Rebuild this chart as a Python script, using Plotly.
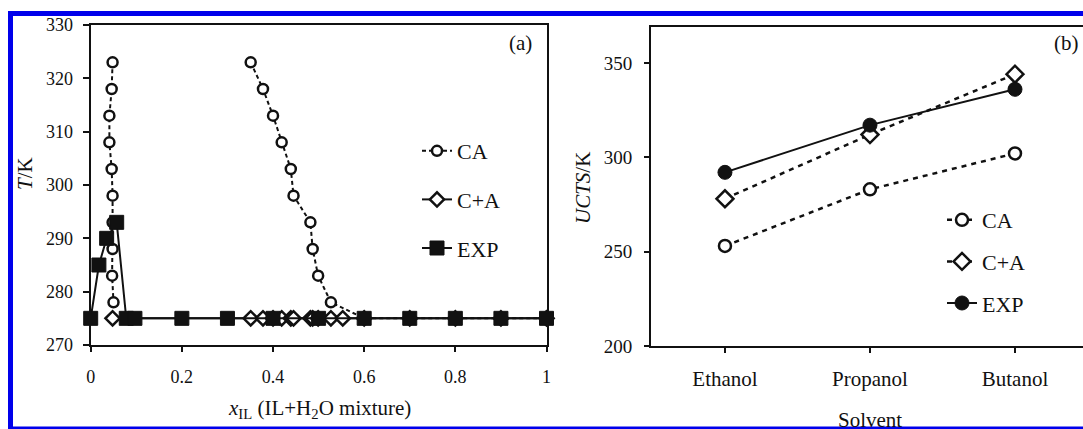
import plotly.graph_objects as go

W, H = 1083, 429

# ---- panel (a): T vs x_IL for IL + H2O ----
ca_left_x = [0.048, 0.046, 0.041, 0.041, 0.046, 0.048, 0.048, 0.048, 0.047, 0.050]
ca_left_t = [323, 318, 313, 308, 303, 298, 293, 288, 283, 278]
ca_right_x = [0.351, 0.378, 0.400, 0.419, 0.439, 0.445, 0.482, 0.487, 0.499, 0.527,
              0.6, 0.7, 0.8, 0.9, 1.0]
ca_right_t = [323, 318, 313, 308, 303, 298, 293, 288, 283, 278,
              275, 275, 275, 275, 275]

cpa_x = [0.048, 0.351, 0.378, 0.400, 0.419, 0.439, 0.445, 0.482, 0.487, 0.499,
         0.527, 0.553, 0.6, 0.7, 0.8, 0.9, 1.0]
cpa_t = [275] * len(cpa_x)

exp_x = [0, 0.018, 0.035, 0.057, 0.078, 0.097, 0.2, 0.3, 0.4, 0.5,
         0.6, 0.7, 0.8, 0.9, 1.0]
exp_t = [275, 285, 290, 293, 275, 275, 275, 275, 275, 275,
         275, 275, 275, 275, 275]

xa_ticks = [0, 0.2, 0.4, 0.6, 0.8, 1.0]
xa_labels = ["0", "0.2", "0.4", "0.6", "0.8", "1"]
ya_ticks = [270, 280, 290, 300, 310, 320, 330]

# ---- panel (b): UCTS by solvent ----
solvents = ["Ethanol", "Propanol", "Butanol"]
ucts_ca = [253, 283, 302]
ucts_cpa = [278, 312, 344]
ucts_exp = [292, 317, 336]
yb_ticks = [200, 250, 300, 350]

SERIF = "Liberation Serif"
BLACK = "#111111"
BLUE = "rgb(0,0,235)"


def fx(px):
    return px / W


def fy(py):
    return 1 - py / H


fig = go.Figure()

# panel (a) traces
fig.add_trace(go.Scatter(
    x=ca_left_x + [None] + ca_right_x, y=ca_left_t + [None] + ca_right_t,
    mode="lines+markers", name="CA", legendgroup="a1", legend="legend",
    line=dict(color=BLACK, width=2, dash="4px,3px"),
    marker=dict(symbol="circle", size=10, color="white",
                line=dict(color=BLACK, width=2.5)),
    cliponaxis=False, xaxis="x", yaxis="y"))
fig.add_trace(go.Scatter(
    x=cpa_x, y=cpa_t, mode="lines+markers", name="C+A", legendgroup="a2",
    legend="legend",
    line=dict(color=BLACK, width=2),
    marker=dict(symbol="diamond", size=11, color="white",
                line=dict(color=BLACK, width=2.5)),
    cliponaxis=False, xaxis="x", yaxis="y"))
fig.add_trace(go.Scatter(
    x=exp_x, y=exp_t, mode="lines+markers", name="EXP", legendgroup="a3",
    legend="legend",
    line=dict(color=BLACK, width=2),
    marker=dict(symbol="square", size=14, color=BLACK,
                line=dict(color=BLACK, width=1)),
    cliponaxis=False, xaxis="x", yaxis="y"))

# panel (b) traces
fig.add_trace(go.Scatter(
    x=solvents, y=ucts_ca, mode="lines+markers", name="CA", legendgroup="b1",
    legend="legend2",
    line=dict(color=BLACK, width=2.5, dash="5px,5px"),
    marker=dict(symbol="circle", size=12, color="white",
                line=dict(color=BLACK, width=2.5)),
    cliponaxis=False, xaxis="x2", yaxis="y2"))
fig.add_trace(go.Scatter(
    x=solvents, y=ucts_cpa, mode="lines+markers", name="C+A", legendgroup="b2",
    legend="legend2",
    line=dict(color=BLACK, width=2.5, dash="5px,5px"),
    marker=dict(symbol="diamond", size=13, color="white",
                line=dict(color=BLACK, width=2.5)),
    cliponaxis=False, xaxis="x2", yaxis="y2"))
fig.add_trace(go.Scatter(
    x=solvents, y=ucts_exp, mode="lines+markers", name="EXP", legendgroup="b3",
    legend="legend2",
    line=dict(color=BLACK, width=2),
    marker=dict(symbol="circle", size=14, color=BLACK,
                line=dict(color=BLACK, width=1)),
    cliponaxis=False, xaxis="x2", yaxis="y2"))

axis_common = dict(showgrid=False, zeroline=False, showline=True,
                   linecolor=BLACK, linewidth=2, ticks="outside",
                   tickcolor=BLACK, tickwidth=1.5, automargin=False,
                   tickfont=dict(family=SERIF, size=18, color=BLACK))

fig.update_layout(
    width=W, height=H,
    margin=dict(l=0, r=0, t=0, b=0),
    paper_bgcolor="white", plot_bgcolor="white",
    font=dict(family=SERIF, color=BLACK),
    xaxis=dict(axis_common, domain=[fx(90.7), fx(546.5)], range=[0, 1],
               tickvals=xa_ticks, ticktext=xa_labels, ticklen=5,
               mirror=True, anchor="y", ticklabelstandoff=9),
    yaxis=dict(axis_common, domain=[fy(345), fy(25)], range=[270, 330],
               tickvals=ya_ticks, ticklen=6, mirror=True, anchor="x",
               ticklabelstandoff=6),
    xaxis2=dict(axis_common, domain=[fx(651), 1.0], range=[-0.51, 2.469],
                type="category", categoryorder="array", categoryarray=solvents,
                ticklen=5, mirror=True, anchor="y2", ticklabelstandoff=8,
                tickfont=dict(family=SERIF, size=21, color=BLACK)),
    yaxis2=dict(axis_common, domain=[fy(346), fy(27)], range=[200, 369],
                tickvals=yb_ticks, ticklen=5, mirror=False, anchor="x2",
                ticklabelstandoff=8,
                tickfont=dict(family=SERIF, size=19, color=BLACK)),
    legend=dict(x=fx(417), y=fy(130), xanchor="left", yanchor="top",
                bgcolor="rgba(0,0,0,0)", tracegroupgap=17,
                font=dict(family=SERIF, size=22, color=BLACK)),
    legend2=dict(x=fx(942), y=fy(199), xanchor="left", yanchor="top",
                 bgcolor="rgba(0,0,0,0)", tracegroupgap=10,
                 font=dict(family=SERIF, size=22, color=BLACK)),
)

annotations = [
    dict(text="(a)", x=fx(520), y=fy(43)),
    dict(text="(b)", x=fx(1066), y=fy(43)),
    dict(text="<i>T</i>/K", x=fx(25), y=fy(174), textangle=-90),
    dict(text="<i>x</i><sub>IL</sub> (IL+H<sub>2</sub>O mixture)",
         x=fx(319), y=fy(409)),
    dict(text="<i>UCTS</i>/K", x=fx(583), y=fy(188), textangle=-90),
    dict(text="Solvent", x=fx(870), y=fy(420)),
]
for a in annotations:
    a.update(xref="paper", yref="paper", showarrow=False,
             xanchor="center", yanchor="middle",
             font=dict(family=SERIF, size=21, color=BLACK))
fig.update_layout(annotations=annotations)

# blue frame around the figure (left, top, bottom edges)
fig.update_layout(shapes=[
    dict(type="rect", xref="paper", yref="paper", layer="above",
         x0=fx(8), x1=fx(13), y0=0, y1=fy(11),
         fillcolor=BLUE, line=dict(width=0)),
    dict(type="rect", xref="paper", yref="paper", layer="above",
         x0=fx(8), x1=1, y0=fy(16), y1=fy(11),
         fillcolor=BLUE, line=dict(width=0)),
    dict(type="rect", xref="paper", yref="paper", layer="above",
         x0=fx(8), x1=1, y0=0, y1=fy(426.5),
         fillcolor=BLUE, line=dict(width=0)),
])

fig.write_html("out.html")
